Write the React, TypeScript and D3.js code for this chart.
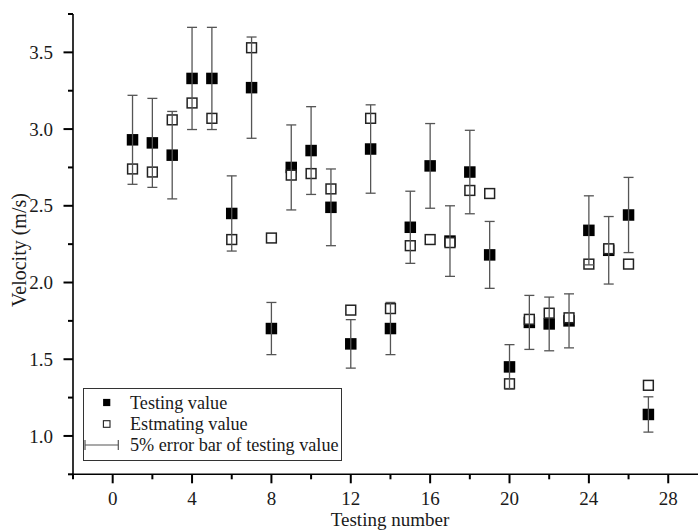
import React from "react";
import * as d3 from "d3";

const testNo = [1,2,3,4,5,6,7,8,9,10,11,12,13,14,15,16,17,18,19,20,21,22,23,24,25,26,27];
const testing = [2.93,2.91,2.83,3.33,3.33,2.45,3.27,1.70,2.75,2.86,2.49,1.60,2.87,1.70,2.36,2.76,2.27,2.72,2.18,1.45,1.74,1.73,1.75,2.34,2.21,2.44,1.14];
const estimating = [2.74,2.72,3.06,3.17,3.07,2.28,3.53,2.29,2.70,2.71,2.61,1.82,3.07,1.83,2.24,2.28,2.26,2.60,2.58,1.34,1.76,1.80,1.77,2.12,2.22,2.12,1.33];
const errorBar = [0.29,0.29,0.285,0.333,0.333,0.245,0.33,0.17,0.277,0.286,0.25,0.158,0.288,0.17,0.235,0.276,0.23,0.272,0.218,0.145,0.176,0.175,0.176,0.225,0.22,0.245,0.115];
const xMajor = [0,4,8,12,16,20,24,28];
const xMinor = [-2,2,6,10,14,18,22,26];
const yMajor = [1.0,1.5,2.0,2.5,3.0,3.5];
const yMinor = [0.75,1.25,1.75,2.25,2.75,3.25,3.75];
const legendLabels = ["Testing value","Estmating value","5% error bar of testing value"];

const W = 698, H = 531;
const FONT = "'Liberation Serif','Times New Roman',Times,serif";

export default function App() {
  const x = d3.scaleLinear().domain([-2, 29.5]).range([73, 698]);
  const y = d3.scaleLinear().domain([0.75, 3.75]).range([474.3, 14]);
  const x0 = x(-2), y0 = y(0.75);
  const sq = 11.5;
  const osq = 9.8;
  const cap = 5;
  const errColor = "#555";
  const lx = 83.5, ly = 388.5, lw = 258, lh = 72;
  const rowY = [402.5, 424, 445];

  return (
    <svg width={W} height={H} style={{ position: "fixed", left: 0, top: 0, background: "#fff" }} fontFamily={FONT}>
      <rect x={0} y={0} width={W} height={H} fill="#fff" />
      {testNo.map((n, i) => (
        <rect key={"f" + n} x={x(n) - sq / 2} y={y(testing[i]) - sq / 2} width={sq} height={sq} fill="#000" />
      ))}
      {testNo.map((n, i) => (
        <rect key={"o" + n} x={x(n) - osq / 2} y={y(estimating[i]) - osq / 2} width={osq} height={osq} fill="#fff" stroke="#222" strokeWidth={1.5} />
      ))}
      {testNo.map((n, i) => {
        const cx = x(n);
        const top = y(testing[i] + errorBar[i]);
        const bot = y(testing[i] - errorBar[i]);
        return (
          <g key={"e" + n} stroke={errColor} strokeWidth={1.3} fill="none">
            <line x1={cx} x2={cx} y1={top} y2={bot} />
            <line x1={cx - cap} x2={cx + cap} y1={top} y2={top} />
            <line x1={cx - cap} x2={cx + cap} y1={bot} y2={bot} />
          </g>
        );
      })}
      <g stroke="#000" strokeWidth={1.6}>
        <line x1={x0} x2={x0} y1={y(3.75)} y2={y0 + 0.8} />
        <line x1={x0 - 0.8} x2={W} y1={y0} y2={y0} />
        {xMajor.map(v => <line key={"xM" + v} x1={x(v)} x2={x(v)} y1={y0} y2={y0 + 9} strokeWidth={2} />)}
        {xMinor.map(v => <line key={"xm" + v} x1={x(v)} x2={x(v)} y1={y0} y2={y0 + 5} strokeWidth={2} />)}
        {yMajor.map(v => <line key={"yM" + v} x1={x0} x2={x0 - 9.5} y1={y(v)} y2={y(v)} strokeWidth={2} />)}
        {yMinor.map(v => <line key={"ym" + v} x1={x0} x2={x0 - 5} y1={y(v)} y2={y(v)} strokeWidth={2} />)}
      </g>
      <g fontSize={19} fill="#1a1a1a">
        {xMajor.map(v => <text key={"xl" + v} x={x(v)} y={505} textAnchor="middle">{v}</text>)}
        {yMajor.map(v => <text key={"yl" + v} x={53} y={y(v)} dy="0.35em" textAnchor="end">{v.toFixed(1)}</text>)}
        <text x={390} y={526} textAnchor="middle">Testing number</text>
        <text transform={`translate(26,250) rotate(-90)`} textAnchor="middle" fontSize={20}>Velocity (m/s)</text>
      </g>
      <rect x={lx} y={ly} width={lw} height={lh} fill="#fff" stroke="#333" strokeWidth={1} />
      <rect x={106.7 - 3.6} y={rowY[0] - 3.6} width={7.2} height={7.2} fill="#000" />
      <rect x={106.7 - 3.3} y={rowY[1] - 3.3} width={6.6} height={6.6} fill="#fff" stroke="#222" strokeWidth={1.1} />
      <g stroke={errColor} strokeWidth={1.2}>
        <line x1={85} x2={118.3} y1={rowY[2]} y2={rowY[2]} />
        <line x1={85} x2={85} y1={rowY[2] - 5} y2={rowY[2] + 5} />
        <line x1={118.3} x2={118.3} y1={rowY[2] - 5} y2={rowY[2] + 5} />
      </g>
      <g fontSize={18.2} fill="#1a1a1a">
        {legendLabels.map((t, i) => <text key={t} x={130} y={rowY[i]} dy="0.33em">{t}</text>)}
      </g>
    </svg>
  );
}
